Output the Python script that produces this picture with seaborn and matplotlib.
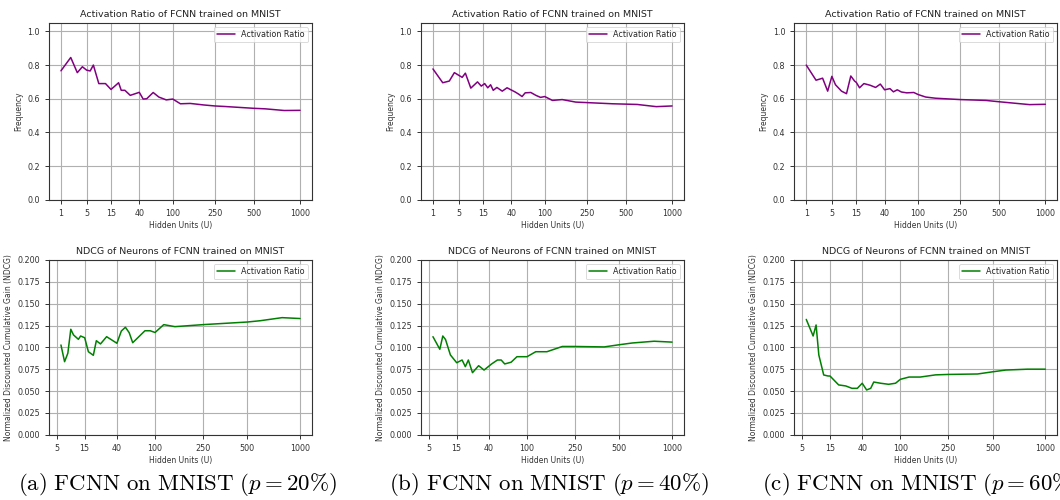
import numpy as np
import pandas as pd
import matplotlib
matplotlib.use("Agg")
import matplotlib.pyplot as plt
import seaborn as sns

# Hidden-unit sweeps and measured activation ratios (top row)
units_a = [1, 2, 3, 4, 5, 6, 7, 9, 12, 15, 20, 22, 25, 30, 40, 45, 50, 60, 70, 85,
           100, 120, 150, 200, 250, 300, 400, 500, 600, 800, 1000]
act_a = [0.766, 0.845, 0.755, 0.790, 0.770, 0.765, 0.800, 0.690, 0.690, 0.655, 0.695,
         0.650, 0.650, 0.620, 0.638, 0.598, 0.600, 0.637, 0.610, 0.593, 0.598, 0.570,
         0.572, 0.563, 0.557, 0.554, 0.548, 0.543, 0.540, 0.530, 0.531]

units_b = [1, 2, 3, 4, 6, 7, 9, 12, 14, 16, 18, 20, 22, 25, 30, 35, 45, 50, 55, 60,
           70, 80, 90, 100, 120, 150, 200, 250, 400, 600, 800, 1000]
act_b = [0.777, 0.695, 0.705, 0.755, 0.727, 0.752, 0.663, 0.700, 0.675, 0.690, 0.665,
         0.683, 0.650, 0.667, 0.645, 0.665, 0.640, 0.627, 0.613, 0.635, 0.637, 0.620,
         0.608, 0.613, 0.590, 0.595, 0.580, 0.577, 0.570, 0.566, 0.553, 0.557]

units_c = [1, 2, 3, 4, 5, 6, 8, 10, 12, 14, 15, 17, 20, 25, 30, 35, 40, 47, 52, 58,
           65, 75, 90, 100, 120, 150, 250, 400, 500, 800, 1000]
act_c = [0.800, 0.710, 0.722, 0.645, 0.733, 0.683, 0.645, 0.630, 0.735, 0.705, 0.697,
         0.665, 0.690, 0.680, 0.667, 0.687, 0.653, 0.660, 0.641, 0.653, 0.640, 0.635,
         0.637, 0.625, 0.610, 0.603, 0.595, 0.590, 0.582, 0.565, 0.567]

# NDCG of neurons (bottom row)
units_na = [6, 7, 8, 9, 10, 12, 13, 15, 17, 20, 22, 25, 30, 40, 45, 50, 55, 60, 80, 90,
            100, 120, 150, 250, 500, 600, 800, 1000]
ndcg_a = [0.1027, 0.0836, 0.0932, 0.1207, 0.1142, 0.1092, 0.1130, 0.1110, 0.0950,
          0.0909, 0.1076, 0.1039, 0.1122, 0.1047, 0.1187, 0.1230, 0.1168, 0.1053,
          0.1190, 0.1190, 0.1170, 0.1260, 0.1237, 0.1260, 0.1290, 0.1305, 0.1340, 0.1330]

units_nb = [6, 8, 9, 10, 12, 15, 18, 20, 22, 25, 30, 35, 43, 50, 55, 60, 70, 80, 100,
            120, 150, 200, 250, 400, 500, 600, 800, 1000]
ndcg_b = [0.1122, 0.0978, 0.1130, 0.1090, 0.0913, 0.0824, 0.0855, 0.0779, 0.0855,
          0.0710, 0.0790, 0.0740, 0.0810, 0.0855, 0.0855, 0.0810, 0.0830, 0.0893,
          0.0893, 0.0950, 0.0950, 0.1010, 0.1010, 0.1005, 0.1030, 0.1050, 0.1070, 0.1060]

units_nc = [6, 8, 9, 10, 12, 14, 15, 20, 25, 30, 35, 40, 45, 50, 54, 64, 77, 90, 100,
            120, 150, 200, 250, 400, 500, 600, 800, 1000]
ndcg_c = [0.1320, 0.1130, 0.1256, 0.0913, 0.0684, 0.0672, 0.0672, 0.0570, 0.0558,
          0.0531, 0.0531, 0.0589, 0.0512, 0.0531, 0.0603, 0.0589, 0.0577, 0.0589,
          0.0634, 0.0660, 0.0660, 0.0685, 0.0690, 0.0695, 0.0720, 0.0740, 0.0750, 0.0750]

top_ticks = [1, 5, 15, 40, 100, 250, 500, 1000]
bottom_ticks = [5, 15, 40, 100, 250, 500, 1000]
captions = [r"$\mathrm{(a)\ FCNN\ on\ MNIST\ (}p = 20\%\mathrm{)}$",
            r"$\mathrm{(b)\ FCNN\ on\ MNIST\ (}p = 40\%\mathrm{)}$",
            r"$\mathrm{(c)\ FCNN\ on\ MNIST\ (}p = 60\%\mathrm{)}$"]

sns.set_style("ticks")
plt.rcParams["font.family"] = ["DejaVu Sans"]
plt.rcParams["mathtext.fontset"] = "cm"

TICK_FS = 5.8
LABEL_FS = 5.5
TITLE_FS = 6.8


def fwd(x):
    x = np.asarray(x, dtype=float)
    return np.sign(x) * np.abs(x) ** 0.25


def inv(x):
    x = np.asarray(x, dtype=float)
    return np.sign(x) * np.abs(x) ** 4


def style_axes(ax, ticks, xs):
    ax.set_xscale("function", functions=(fwd, inv))
    # 5% padding on each side, measured in the fourth-root space
    lo, hi = float(fwd(min(xs))), float(fwd(max(xs)))
    pad = 0.05 * (hi - lo)
    ax.set_xlim(float(inv(lo - pad)), float(inv(hi + pad)))
    ax.set_xticks(ticks)
    ax.set_xticklabels([str(t) for t in ticks])
    ax.minorticks_off()
    ax.grid(True, color="#b0b0b0", linewidth=0.8)
    ax.set_axisbelow(True)
    for s in ax.spines.values():
        s.set_color("#333333")
        s.set_linewidth(0.8)
    ax.tick_params(axis="both", labelsize=TICK_FS, colors="#333333", length=3, width=0.7)
    ax.set_xlabel("Hidden Units (U)", fontsize=LABEL_FS, color="#333333", labelpad=2)
    leg = ax.legend(loc="upper right", fontsize=TICK_FS, handlelength=2.2,
                    borderpad=0.4, framealpha=0.8)
    leg.get_frame().set_linewidth(0.6)


fig = plt.figure(figsize=(10.6, 5.0), dpi=100)

lefts = [49 / 1060, 421 / 1060, 794.3 / 1060]
width = 263 / 1060
top_row = (1 - 199.7 / 500, (199.7 - 23) / 500)
bot_row = (1 - 434.7 / 500, (434.7 - 260) / 500)

top_data = [(units_a, act_a), (units_b, act_b), (units_c, act_c)]
bot_data = [(units_na, ndcg_a), (units_nb, ndcg_b), (units_nc, ndcg_c)]

for i in range(3):
    # Activation ratio panel
    ax = fig.add_axes([lefts[i], top_row[0], width, top_row[1]])
    df = pd.DataFrame({"units": top_data[i][0], "ratio": top_data[i][1]})
    sns.lineplot(data=df, x="units", y="ratio", ax=ax, color="purple",
                 linewidth=1.1, estimator=None, label="Activation Ratio")
    style_axes(ax, top_ticks, top_data[i][0])
    ax.set_ylim(0, 1.05)
    ax.set_yticks([0.0, 0.2, 0.4, 0.6, 0.8, 1.0])
    ax.set_ylabel("Frequency", fontsize=LABEL_FS, color="#333333", labelpad=3)
    ax.set_title("Activation Ratio of FCNN trained on MNIST", fontsize=TITLE_FS,
                 color="#222222", pad=4)

    # NDCG panel
    ax2 = fig.add_axes([lefts[i], bot_row[0], width, bot_row[1]])
    df2 = pd.DataFrame({"units": bot_data[i][0], "ndcg": bot_data[i][1]})
    sns.lineplot(data=df2, x="units", y="ndcg", ax=ax2, color="green",
                 linewidth=1.1, estimator=None, label="Activation Ratio")
    style_axes(ax2, bottom_ticks, bot_data[i][0])
    ax2.set_ylim(0, 0.2)
    ax2.set_yticks(np.arange(0, 0.2001, 0.025))
    ax2.set_yticklabels([f"{v:.3f}" for v in np.arange(0, 0.2001, 0.025)])
    ax2.set_ylabel("Normalized Discounted Cumulative Gain (NDCG)", fontsize=LABEL_FS,
                   color="#333333", labelpad=3)
    ax2.set_title("NDCG of Neurons of FCNN trained on MNIST", fontsize=TITLE_FS,
                  color="#222222", pad=4)

caption_x = [177, 549, 762]
for i, cap in enumerate(captions):
    ha = "center" if i < 2 else "left"
    fig.text(caption_x[i] / 1060, 1 - 485 / 500, cap, fontsize=16.5, ha=ha,
             va="center", color="black")

fig.savefig("out.png", dpi=100)
